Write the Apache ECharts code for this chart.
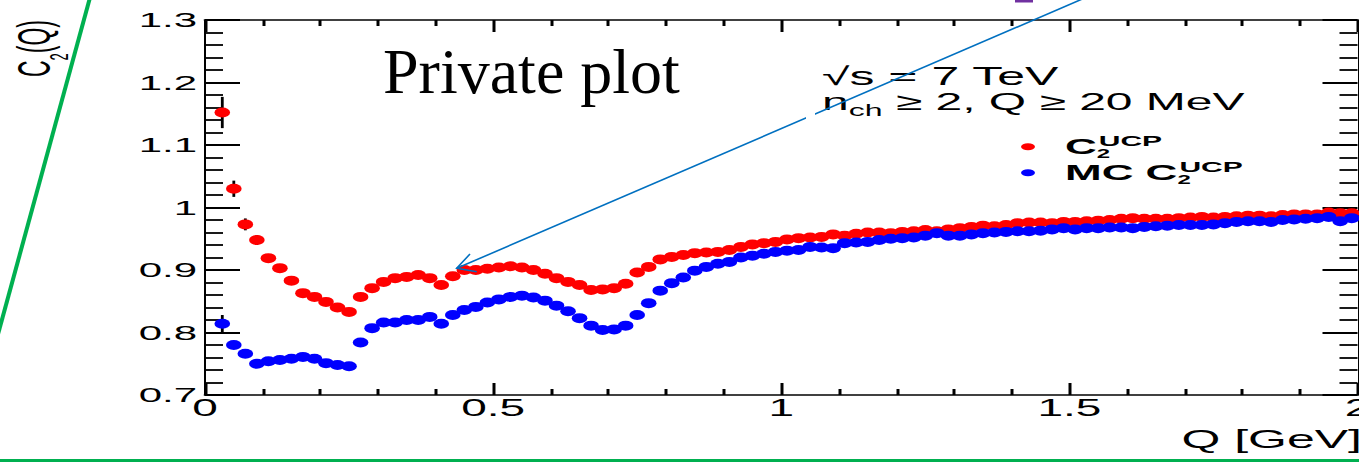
<!DOCTYPE html>
<html>
<head>
<meta charset="utf-8">
<title>C2(Q) UCP</title>
<script src="https://cdn.jsdelivr.net/npm/echarts@6/dist/echarts.min.js"></script>
<style>
  html, body { margin: 0; padding: 0; width: 1359px; height: 462px; overflow: hidden; background: #fff; }
  /* the ROOT canvas is shown stretched twice as wide as it was drawn */
  #plot { position: absolute; left: 0; top: 0; width: 720px; height: 462px; transform: scaleX(2); transform-origin: 0 0; }
  #deco { position: absolute; left: 0; top: 0; width: 1359px; height: 462px; pointer-events: none; }
</style>
</head>
<body>
<div id="plot"></div>
<div id="deco"></div>
<script>
// Q bin centres [GeV]
const qBins = [
  0.03, 0.05, 0.07, 0.09, 0.11, 0.13, 0.15, 0.17, 0.19, 0.21,
  0.23, 0.25, 0.27, 0.29, 0.31, 0.33, 0.35, 0.37, 0.39, 0.41,
  0.43, 0.45, 0.47, 0.49, 0.51, 0.53, 0.55, 0.57, 0.59, 0.61,
  0.63, 0.65, 0.67, 0.69, 0.71, 0.73, 0.75, 0.77, 0.79, 0.81,
  0.83, 0.85, 0.87, 0.89, 0.91, 0.93, 0.95, 0.97, 0.99, 1.01,
  1.03, 1.05, 1.07, 1.09, 1.11, 1.13, 1.15, 1.17, 1.19, 1.21,
  1.23, 1.25, 1.27, 1.29, 1.31, 1.33, 1.35, 1.37, 1.39, 1.41,
  1.43, 1.45, 1.47, 1.49, 1.51, 1.53, 1.55, 1.57, 1.59, 1.61,
  1.63, 1.65, 1.67, 1.69, 1.71, 1.73, 1.75, 1.77, 1.79, 1.81,
  1.83, 1.85, 1.87, 1.89, 1.91, 1.93, 1.95, 1.97, 1.99
];

// C2^UCP, data
const c2Data = [
  1.152, 1.030, 0.973, 0.948, 0.919, 0.903, 0.883, 0.863, 0.857, 0.849,
  0.840, 0.833, 0.857, 0.871, 0.881, 0.887, 0.889, 0.892, 0.887, 0.876,
  0.890, 0.900, 0.900, 0.902, 0.904, 0.906, 0.904, 0.900, 0.894, 0.887,
  0.881, 0.876, 0.868, 0.869, 0.871, 0.878, 0.896, 0.905, 0.917, 0.921,
  0.924, 0.927, 0.928, 0.929, 0.932, 0.937, 0.941, 0.943, 0.945, 0.949,
  0.951, 0.952, 0.953, 0.957, 0.955, 0.958, 0.960, 0.960, 0.959, 0.961,
  0.962, 0.964, 0.962, 0.965, 0.967, 0.969, 0.971, 0.970, 0.972, 0.975,
  0.976, 0.976, 0.975, 0.977, 0.977, 0.978, 0.979, 0.980, 0.982, 0.983,
  0.982, 0.982, 0.982, 0.983, 0.984, 0.985, 0.984, 0.985, 0.986, 0.987,
  0.987, 0.986, 0.988, 0.989, 0.989, 0.989, 0.992, 0.991, 0.991
];

// C2^UCP, Monte Carlo
const c2Mc = [
  0.814, 0.780, 0.766, 0.750, 0.754, 0.756, 0.758, 0.761, 0.758, 0.751,
  0.748, 0.746, 0.784, 0.807, 0.816, 0.816, 0.820, 0.820, 0.825, 0.814,
  0.828, 0.836, 0.841, 0.848, 0.853, 0.857, 0.859, 0.856, 0.851, 0.843,
  0.834, 0.823, 0.811, 0.804, 0.805, 0.811, 0.828, 0.847, 0.867, 0.879,
  0.888, 0.899, 0.905, 0.910, 0.913, 0.920, 0.923, 0.926, 0.929, 0.931,
  0.932, 0.937, 0.936, 0.935, 0.943, 0.944, 0.945, 0.948, 0.950, 0.951,
  0.952, 0.955, 0.959, 0.955, 0.955, 0.957, 0.959, 0.960, 0.961, 0.962,
  0.962, 0.963, 0.965, 0.967, 0.965, 0.967, 0.967, 0.968, 0.968, 0.967,
  0.969, 0.970, 0.971, 0.972, 0.972, 0.972, 0.973, 0.975, 0.977, 0.978,
  0.978, 0.977, 0.980, 0.981, 0.982, 0.983, 0.985, 0.978, 0.983
];

// statistical errors of the lowest bins (the rest are hidden by the markers)
const c2DataErr = [0.025, 0.013, 0.0095, 0.008];
const c2McErr = [0.014];

// axis ranges and tick steps
const qRange = [0, 2];
const qStep = 0.5;
const c2Range = [0.7, 1.3];
const c2Step = 0.1;

const SANS = '"Liberation Sans", Arial, Helvetica, sans-serif';
const SERIF = '"Liberation Serif", "Times New Roman", Times, serif';
const ELLIPSE = 'path://M1,0A1,1,0,1,1,-1,0A1,1,0,1,1,1,0Z';
const MARKER = [7.8, 10];

function errorBars(params, api) {
  const x = api.value(0), y = api.value(1), e = api.value(2);
  const lo = api.coord([x, y - e]);
  const hi = api.coord([x, y + e]);
  return {
    type: 'line',
    shape: { x1: lo[0], y1: lo[1], x2: hi[0], y2: hi[1] },
    style: { stroke: '#000', lineWidth: 1.4 }
  };
}

function xAxisDef(pos, withLabels) {
  return {
    type: 'value', position: pos, min: qRange[0], max: qRange[1], interval: qStep,
    axisLine: { show: true, onZero: false, lineStyle: { color: '#000', width: 1.5 } },
    axisTick: { show: true, inside: true, length: 12, lineStyle: { color: '#000', width: 1.5 } },
    minorTick: { show: true, splitNumber: 5, length: 6, lineStyle: { color: '#000', width: 1.5 } },
    splitLine: { show: false },
    axisLabel: { show: withLabels, margin: 2, fontSize: 23, fontFamily: SANS, color: '#000',
                 showMinLabel: true, showMaxLabel: true }
  };
}

function yAxisDef(pos, withLabels) {
  return {
    type: 'value', position: pos, min: c2Range[0], max: c2Range[1], interval: c2Step,
    axisLine: { show: true, onZero: false, lineStyle: { color: '#000', width: 1 } },
    axisTick: { show: true, inside: true, length: 17.5, lineStyle: { color: '#000', width: 1.8 } },
    minorTick: { show: true, splitNumber: 5, length: 9, lineStyle: { color: '#000', width: 1.8 } },
    splitLine: { show: false },
    axisLabel: { show: withLabels, margin: 4, fontSize: 21, fontFamily: SANS, color: '#000',
                 showMinLabel: true, showMaxLabel: true }
  };
}

const plot = echarts.init(document.getElementById('plot'), null, { renderer: 'svg', width: 720, height: 462 });
plot.setOption({
  animation: false,
  backgroundColor: '#fff',
  grid: { left: 102.5, right: 41.25, top: 20, bottom: 67, containLabel: false, outerBoundsMode: 'none' },
  xAxis: [xAxisDef('bottom', true), xAxisDef('top', false)],
  yAxis: [yAxisDef('left', true), yAxisDef('right', false)],
  legend: {
    orient: 'vertical', left: 510.5, top: 133.7, padding: 0, itemGap: 0,
    itemWidth: 7, itemHeight: 9, selectedMode: false,
    data: [{ name: 'C2 UCP', icon: ELLIPSE }, { name: 'MC C2 UCP', icon: ELLIPSE }],
    formatter: n => n === 'C2 UCP' ? '{m|C}{b|2}{p|UCP}' : '{m|MC C}{b|2}{p|UCP}',
    textStyle: {
      color: '#000', fontFamily: SANS,
      rich: {
        m: { fontFamily: SANS, fontWeight: 'bold', fontSize: 22, lineHeight: 26, color: '#000', padding: [0, 0, 0, 10] },
        b: { fontFamily: SANS, fontWeight: 'bold', fontSize: 12, lineHeight: 12, color: '#000', verticalAlign: 'bottom', width: 1 },
        p: { fontFamily: SANS, fontWeight: 'bold', fontSize: 15, lineHeight: 15, color: '#000', verticalAlign: 'top' }
      }
    }
  },
  series: [
    {
      type: 'custom', name: 'err data', silent: true, z: 1,
      data: c2DataErr.map((e, i) => [qBins[i], c2Data[i], e]),
      renderItem: errorBars
    },
    {
      type: 'custom', name: 'err mc', silent: true, z: 1,
      data: c2McErr.map((e, i) => [qBins[i], c2Mc[i], e]),
      renderItem: errorBars
    },
    {
      type: 'scatter', name: 'C2 UCP', z: 3, silent: true,
      symbol: ELLIPSE, symbolSize: MARKER,
      itemStyle: { color: '#ff0000', opacity: 1 },
      data: qBins.map((q, i) => [q, c2Data[i]])
    },
    {
      type: 'scatter', name: 'MC C2 UCP', z: 4, silent: true,
      symbol: ELLIPSE, symbolSize: MARKER,
      itemStyle: { color: '#0000ff', opacity: 1 },
      data: qBins.map((q, i) => [q, c2Mc[i]])
    }
  ],
  graphic: [
    {
      // y-axis title, reading upwards from the top of the frame
      type: 'text', x: 17, y: 20, rotation: Math.PI / 2, silent: true,
      style: {
        text: '{a|C}{s|2}{a|(Q)}', align: 'right', verticalAlign: 'middle', fill: '#000',
        rich: {
          a: { fontFamily: SANS, fontSize: 23, lineHeight: 38, fill: '#000' },
          s: { fontFamily: SANS, fontSize: 13, lineHeight: 13, verticalAlign: 'bottom', fill: '#000' }
        }
      }
    },
    {
      // x-axis title, right-aligned under the end of the axis
      type: 'text', x: 681, y: 439, silent: true,
      style: { text: 'Q [GeV]', fontFamily: SANS, fontSize: 25, fill: '#000', align: 'right', verticalAlign: 'middle' }
    },
    {
      type: 'text', x: 411, y: 75.8, silent: true,
      style: { text: '√s = 7 TeV', fontFamily: SANS, fontSize: 25, fill: '#000', verticalAlign: 'middle' }
    },
    {
      type: 'text', x: 411, y: 84.7, silent: true,
      style: {
        text: '{n|n}{c|ch}{t| ≥ 2, Q ≥ 20 MeV}', verticalAlign: 'top', fill: '#000',
        rich: {
          n: { fontFamily: SANS, fontSize: 24, lineHeight: 34, fill: '#000' },
          c: { fontFamily: SANS, fontSize: 16, lineHeight: 16, verticalAlign: 'bottom', fill: '#000' },
          t: { fontFamily: SANS, fontSize: 24, lineHeight: 34, fill: '#000' }
        }
      }
    }
  ]
});

// slide annotations drawn over the plot
const deco = echarts.init(document.getElementById('deco'), null, { renderer: 'svg', width: 1359, height: 462 });
deco.setOption({
  animation: false,
  graphic: [
    { type: 'line', shape: { x1: 90.7, y1: -5, x2: -3.6, y2: 340 }, style: { stroke: '#00b050', lineWidth: 4 } },
    { type: 'line', shape: { x1: 0, y1: 460.5, x2: 1359, y2: 460.5 }, style: { stroke: '#00b050', lineWidth: 3 } },
    { type: 'line', shape: { x1: 456.7, y1: 268.3, x2: 1090, y2: -4.3 }, style: { stroke: '#0070c0', lineWidth: 1.6 } },
    { type: 'polyline', shape: { points: [[470, 254], [456.7, 268.3], [476.7, 271.7]] },
      style: { stroke: '#0070c0', lineWidth: 1.6, fill: null } },
    { type: 'rect', shape: { x: 806, y: 109, width: 9, height: 13 }, style: { fill: '#fff' } },
    { type: 'rect', shape: { x: 1015, y: 0, width: 18, height: 2.5 }, style: { fill: '#7030a0' } },
    {
      type: 'text', x: 383, y: 71,
      style: { text: 'Private plot', fontFamily: SERIF, fontSize: 64, fill: '#000', verticalAlign: 'middle' }
    }
  ]
});
</script>
</body>
</html>
